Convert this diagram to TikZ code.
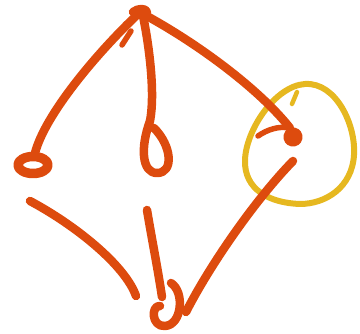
\documentclass[tikz,border=0pt]{standalone}
\usetikzlibrary{calc}
\definecolor{ink}{HTML}{DD4B0E}
\definecolor{hilite}{HTML}{E6B820}
\tikzset{
  pen/.style={draw=ink,line width=8.5pt,line cap=round,line join=round},
  pent/.style={pen,line width=5.5pt},
  ring/.style={draw=hilite,line width=6pt,line cap=round,line join=round},
}
\begin{document}
\begin{tikzpicture}[x=1pt,y=-1pt]
\useasboundingbox (0,0) rectangle (360,334);
% vertices
\coordinate (top) at (140,13);
\coordinate (lft) at (33,165);
\coordinate (mid) at (157,157);
\coordinate (rgt) at (293,137);
\coordinate (bot) at (166,313);
% stroke ends
\coordinate (ltopA) at (138,14);
\coordinate (ltopB) at (35,153);
\coordinate (mtopA) at (143,16);
\coordinate (mtopB) at (150,121);
\coordinate (rtopA) at (145,15);
\coordinate (rtopB) at (290,128);
\coordinate (lbotA) at (30,201);
\coordinate (lbotB) at (136,296);
\coordinate (mbotA) at (147,210);
\coordinate (mbotB) at (162,297);
\coordinate (rbotA) at (293,161);
\coordinate (rbotB) at (186,312);
\coordinate (hookA) at (258,136);
\coordinate (hookB) at (288,128);
% highlight ring
\draw[ring] (305,84) .. controls (336,82) and (356,125) .. (354,155)
  .. controls (352,188) and (325,204) .. (300,204)
  .. controls (270,203) and (244,190) .. (245,160)
  .. controls (246,130) and (275,86) .. (305,84);
\draw[ring,line width=4.5pt] (297,92) -- (292,104);
% top knot and upper edges
\draw[pen] (133,12) .. controls (138,8) and (146,8) .. (147,12);
\draw[pen] (ltopA) .. controls (95,55) and (45,115) .. (ltopB);
\draw[pent] (122,45) -- (131,31);
\draw[pen] (mtopA) .. controls (150,50) and (155,95) .. (mtopB);
\draw[pen] (rtopA) .. controls (200,45) and (260,90) .. (rtopB);
% middle row
\draw[pen,line width=9.5pt] (lft) ellipse [x radius=15, y radius=8.5];
\draw[pen] (mtopB) .. controls (140,148) and (142,173) .. (157,173)
  .. controls (174,173) and (172,146) .. (154,128);
\draw[pen,line width=9.5pt] (rgt) circle [radius=5];
\draw[pent] (hookA) .. controls (268,129) and (280,126) .. (hookB);
% lower edges
\draw[pen] (lbotA) .. controls (75,225) and (125,265) .. (lbotB);
\draw[pen] (mbotA) .. controls (152,240) and (158,270) .. (mbotB);
\draw[pen] (rbotA) .. controls (255,200) and (210,265) .. (rbotB);
% bottom vertex
\draw[pen] (171,283) .. controls (185,292) and (182,325) .. (165,326)
  .. controls (151,327) and (151,305) .. (160,306);
\end{tikzpicture}
\end{document}
